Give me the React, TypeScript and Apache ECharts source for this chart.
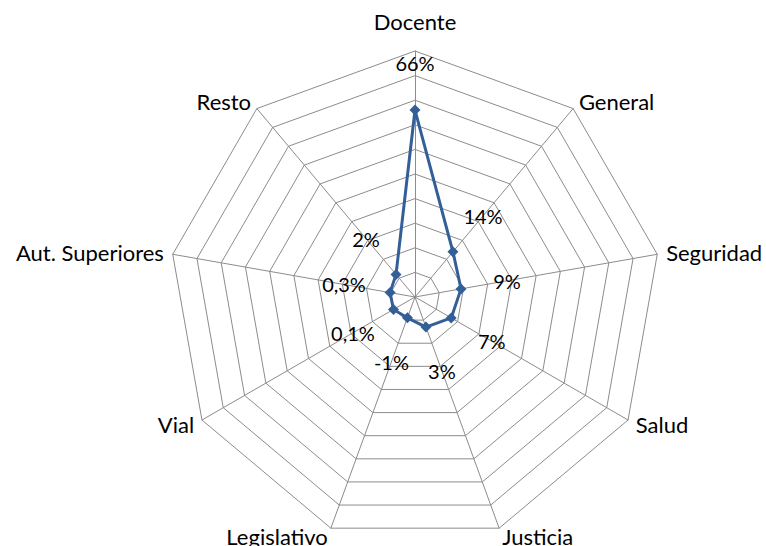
import React, { useEffect, useRef } from "react";
import * as echarts from "echarts";

const categories = [
  "Docente",
  "General",
  "Seguridad",
  "Salud",
  "Justicia",
  "Legislativo",
  "Vial",
  "Aut. Superiores",
  "Resto",
];
const values = [66, 14, 9, 7, 3, -1, 0.1, 0.3, 2];
const axisMin = -10;
const axisMax = 90;
const labelShift = 19;

const fmt = (v: number) => {
  const r = Math.round(v * 10) / 10;
  return String(r).replace(".", ",") + "%";
};

// ECharts lays indicators out counter-clockwise; reorder so they run clockwise.
const order = categories.map((_, i) => (i === 0 ? 0 : categories.length - i));
const cwCategories = order.map((i) => categories[i]);
const cwValues = order.map((i) => values[i]);

export default function App() {
  const ref = useRef<HTMLDivElement>(null);
  useEffect(() => {
    if (!ref.current) return;
    const chart = echarts.init(ref.current, undefined, { renderer: "svg" });
    const font = "Lato, 'DejaVu Sans', sans-serif";
    chart.setOption({
      animation: false,
      backgroundColor: "#ffffff",
      radar: {
        center: [415, 297],
        radius: 246,
        startAngle: 90,
        splitNumber: 10,
        shape: "polygon",
        indicator: cwCategories.map((name) => ({ name, min: axisMin, max: axisMax })),
        axisName: {
          color: "#000000",
          fontFamily: font,
          fontSize: 22,
          formatter: (name: string) => (name === categories[0] ? "{top|" + name + "}" : name),
          rich: {
            top: { fontFamily: font, fontSize: 22, color: "#000000", padding: [0, 0, 10, 0] },
          },
        },
        nameGap: 9,
        axisLine: { lineStyle: { color: "#8c8c8c", width: 1 } },
        splitLine: { lineStyle: { color: "#8c8c8c", width: 1 } },
        splitArea: { show: false },
        axisTick: { show: false },
        axisLabel: { show: false },
      },
      series: [
        {
          type: "radar",
          symbol: "diamond",
          symbolSize: 11,
          lineStyle: { color: "#335f99", width: 3 },
          itemStyle: { color: "#335f99" },
          data: [{ value: cwValues }],
          z: 3,
        },
        {
          type: "radar",
          symbol: "circle",
          symbolSize: 2,
          lineStyle: { opacity: 0, width: 0 },
          itemStyle: { color: "transparent", borderWidth: 0 },
          silent: true,
          label: {
            show: true,
            position: "inside",
            color: "#000000",
            fontFamily: font,
            fontSize: 20,
            formatter: (p: any) => fmt(Number(p.value) - labelShift),
          },
          data: [{ value: cwValues.map((v) => v + labelShift) }],
          z: 4,
        },
      ],
    });
    return () => chart.dispose();
  }, []);
  return (
    <div
      ref={ref}
      style={{ position: "absolute", left: 0, top: 0, width: 766, height: 546 }}
    />
  );
}
